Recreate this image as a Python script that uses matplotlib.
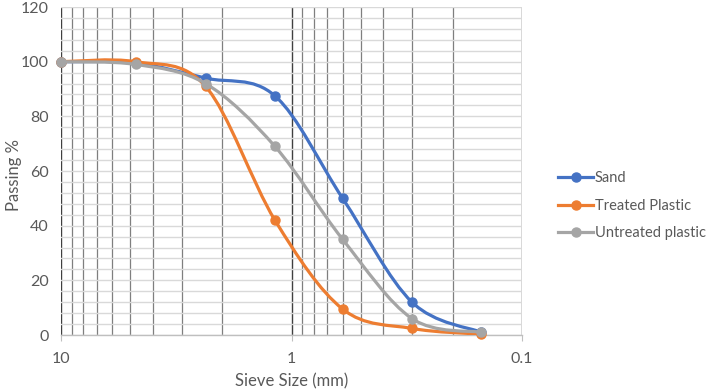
import numpy as np
import matplotlib
matplotlib.use("Agg")
import matplotlib.pyplot as plt
from matplotlib.path import Path
from matplotlib.patches import PathPatch
from matplotlib.lines import Line2D
from matplotlib.ticker import FixedLocator, NullFormatter

plt.rcParams['font.family'] = ['Lato', 'DejaVu Sans']

# Data (sieve size in mm, % passing)
sieve = [10, 4.75, 2.36, 1.18, 0.6, 0.3, 0.15]
sand = [100, 99.5, 94, 87.5, 50, 12, 1]
treated = [100, 100, 91, 42, 9.5, 2.4, 0.3]
untreated = [100, 99, 92, 69, 35, 6, 1]

series = [("Sand", sand, "#4472C4"),
          ("Treated Plastic", treated, "#ED7D31"),
          ("Untreated plastic", untreated, "#A5A5A5")]


def smooth_path(xs, ys):
    # Excel-like smoothed line: cubic Bezier segments, Catmull-Rom control points
    u = np.log10(np.asarray(xs, float))
    v = np.asarray(ys, float)
    n = len(u)
    verts = [(xs[0], ys[0])]
    codes = [Path.MOVETO]
    for i in range(n - 1):
        p0 = max(i - 1, 0)
        p3 = min(i + 2, n - 1)
        c1u = u[i] + (u[i + 1] - u[p0]) / 6
        c1v = v[i] + (v[i + 1] - v[p0]) / 6
        c2u = u[i + 1] - (u[p3] - u[i]) / 6
        c2v = v[i + 1] - (v[p3] - v[i]) / 6
        verts += [(10 ** c1u, c1v), (10 ** c2u, c2v), (xs[i + 1], ys[i + 1])]
        codes += [Path.CURVE4] * 3
    return Path(verts, codes)


fig = plt.figure(figsize=(7.06, 3.91), dpi=100)
ax = fig.add_axes([0.0864, 0.1432, 0.6530, 0.8388])

ax.set_xscale("log")
ax.set_xlim(10, 0.1)
ax.set_ylim(0, 120)

# gridlines
ax.yaxis.set_major_locator(FixedLocator(np.arange(0, 121, 20)))
ax.yaxis.set_minor_locator(FixedLocator(np.arange(0, 121, 4)))
ax.xaxis.set_major_locator(FixedLocator([10, 1, 0.1]))
ax.xaxis.set_minor_locator(FixedLocator([m * d for d in (1, 0.1) for m in range(2, 10)]))
ax.xaxis.set_minor_formatter(NullFormatter())
ax.set_xticklabels(["10", "1", "0.1"])

ax.grid(True, which="both", axis="y", color="#D9D9D9", lw=1.0, zorder=0)
ax.grid(True, which="minor", axis="x", color="#7F7F7F", lw=0.9, zorder=0)
ax.grid(True, which="major", axis="x", color="#404040", lw=1.0, zorder=0)
ax.set_axisbelow(True)

for s in ["top", "right", "left"]:
    ax.spines[s].set_visible(False)
ax.spines["bottom"].set_color("#BFBFBF")
ax.spines["bottom"].set_linewidth(1.0)

ax.tick_params(axis="x", which="major", length=4, color="#BFBFBF", pad=8,
               labelsize=11.5, labelcolor="#595959")
ax.tick_params(axis="x", which="minor", length=0)
ax.tick_params(axis="y", which="both", length=0, pad=9, labelsize=11.5,
               labelcolor="#595959")

for name, vals, color in series:
    ax.add_patch(PathPatch(smooth_path(sieve, vals), fill=False, edgecolor=color,
                           lw=2.3, capstyle="round", joinstyle="round", zorder=3))
    ax.plot(sieve, vals, linestyle="none", marker="o", markersize=6.5,
            color=color, zorder=3, clip_on=False)

# axis titles placed directly in figure coords
fig.text(0.4129, 1 - 381 / 391, "Sieve Size (mm)", fontsize=12, color="#595959",
         ha="center", va="center")
fig.text(14 / 706, 1 - 175 / 391, "Passing %", fontsize=12, color="#595959",
         ha="center", va="center", rotation=90)

handles = [Line2D([], [], color=c, lw=2.3, marker="o", markersize=6.5) for _, _, c in series]
fig.legend(handles, [s[0] for s in series], loc="upper left",
           bbox_to_anchor=(0.772, 0.595), frameon=False, fontsize=10.5,
           handlelength=2.4, handletextpad=0.12, labelspacing=0.9,
           labelcolor="#595959")

fig.savefig("out.png", dpi=100)
